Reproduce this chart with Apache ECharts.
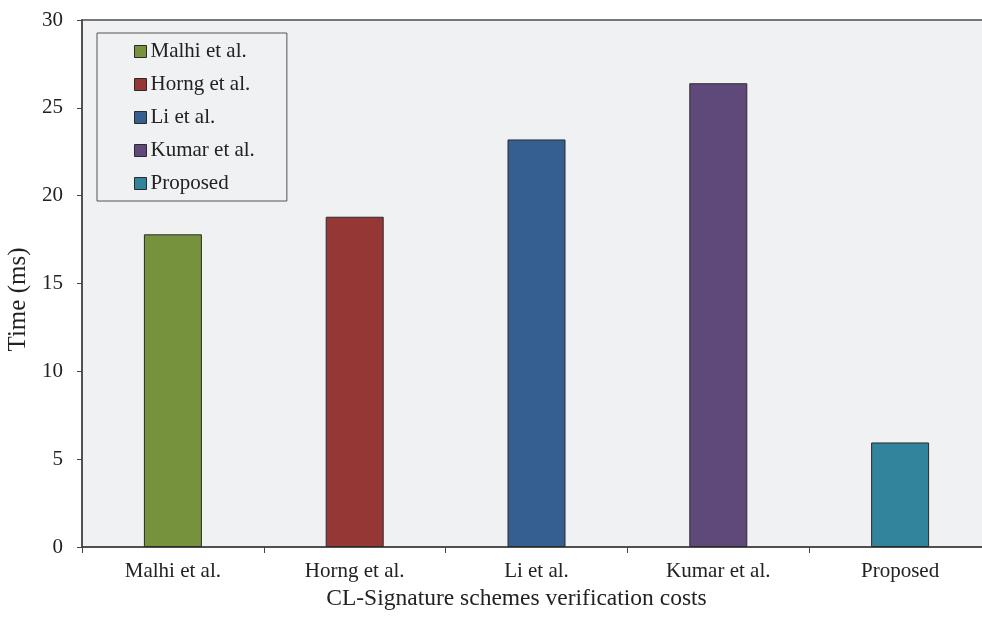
<!DOCTYPE html>
<html>
<head>
<meta charset="utf-8">
<script src="https://cdn.jsdelivr.net/npm/echarts@6/dist/echarts.min.js"></script>
<style>
  html, body { margin: 0; padding: 0; background: #ffffff; }
  #chart { width: 982px; height: 617px; }
</style>
</head>
<body>
<div id="chart"></div>
<script>
// Verification cost of each certificateless signature scheme (ms)
const schemes = ['Malhi et al.', 'Horng et al.', 'Li et al.', 'Kumar et al.', 'Proposed'];
const verifyTimes = [17.8, 18.8, 23.2, 26.4, 5.95];
const schemeColors = ['#76923c', '#953735', '#365f91', '#5f497a', '#31849b'];
const yTicks = { min: 0, max: 30, step: 5 };

const FONT = '"Liberation Serif", "Times New Roman", serif';

// one series per scheme so the legend lists each scheme; stacking keeps bars centred
const series = schemes.map((name, i) => ({
  name: name,
  type: 'bar',
  stack: 'cost',
  barWidth: 58,
  itemStyle: { color: schemeColors[i], borderColor: '#2a2a2a', borderWidth: 1 },
  data: schemes.map((_, j) => (j === i ? verifyTimes[i] : '-'))
}));

const chart = echarts.init(document.getElementById('chart'), null, { renderer: 'canvas' });
chart.setOption({
  backgroundColor: '#ffffff',
  animation: false,
  color: schemeColors,
  grid: {
    left: 82, top: 20, width: 909, height: 527,
    outerBoundsMode: 'none',
    containLabel: false,
    show: true, backgroundColor: '#f0f1f3',
    borderColor: '#777777', borderWidth: 2
  },
  legend: {
    orient: 'vertical',
    left: 97, top: 33,
    padding: [8, 32, 7, 37],
    itemGap: 12,
    itemWidth: 12, itemHeight: 12,
    icon: 'rect',
    backgroundColor: '#f0f1f3',
    borderColor: '#555555', borderWidth: 1,
    itemStyle: { borderColor: '#2a2a2a', borderWidth: 1 },
    textStyle: { fontFamily: FONT, fontSize: 21, color: '#222222', lineHeight: 21, padding: [0, 0, 0, -1] },
    data: schemes
  },
  xAxis: {
    type: 'category',
    data: schemes,
    name: 'CL-Signature schemes verification costs',
    nameLocation: 'middle',
    nameGap: 40,
    nameTextStyle: { fontFamily: FONT, fontSize: 23.5, color: '#222222', padding: [0, 40, 0, 0] },
    axisLine: { lineStyle: { color: '#444444', width: 1.5 } },
    axisTick: { show: true, length: 6, lineStyle: { color: '#444444' } },
    axisLabel: { fontFamily: FONT, fontSize: 21, color: '#222222', margin: 14 }
  },
  yAxis: {
    type: 'value',
    min: yTicks.min, max: yTicks.max, interval: yTicks.step,
    name: 'Time (ms)',
    nameLocation: 'middle',
    nameGap: 50,
    nameTextStyle: { fontFamily: FONT, fontSize: 25, color: '#222222', padding: [0, 32, 0, 0] },
    axisLine: { show: true, lineStyle: { color: '#444444', width: 1.5 } },
    axisTick: { show: true, length: 5, lineStyle: { color: '#444444' } },
    splitLine: { show: false },
    axisLabel: { fontFamily: FONT, fontSize: 21, color: '#222222', margin: 19 }
  },
  series: series
});
</script>
</body>
</html>
